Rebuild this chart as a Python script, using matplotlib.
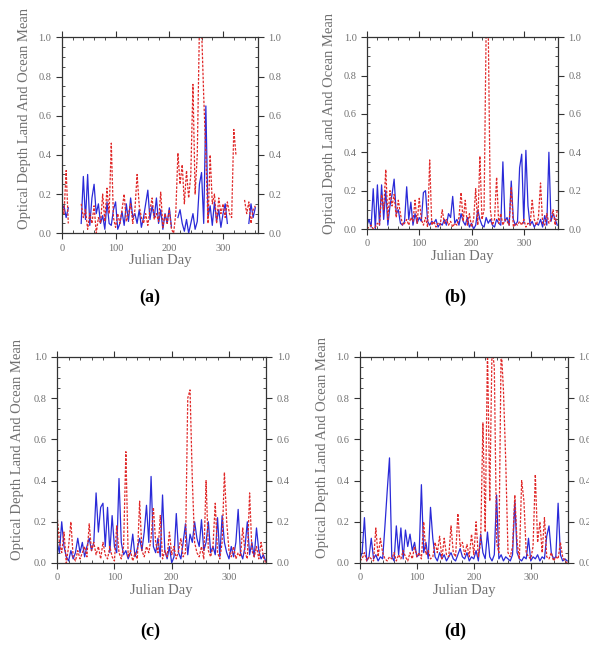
import numpy as np
import matplotlib
matplotlib.use("Agg")
import matplotlib.pyplot as plt
from matplotlib.ticker import MultipleLocator

n = np.nan

# sampled every 4 days, day 0 .. 364
days = np.arange(0, 365, 4)

# (a)
blue_a = [0.12, 0.14, 0.08, 0.13, n, n, n, n, n, 0.05,
          0.29, 0.07, 0.30, 0.04, 0.18, 0.25, 0.10, 0.15, 0.05, 0.09,
          0.02, 0.16, 0.05, 0.04, 0.12, 0.16, 0.02, 0.05, 0.11, 0.04,
          0.15, 0.06, 0.18, 0.08, 0.10, 0.05, 0.12, 0.03, 0.08, 0.15,
          0.22, 0.07, 0.14, 0.08, 0.18, 0.05, 0.12, 0.02, 0.10, 0.05,
          0.13, 0.03, n, n, 0.08, 0.12, 0.05, 0.01, 0.07, 0.00,
          0.05, 0.10, 0.02, 0.06, 0.25, 0.31, 0.05, 0.65, 0.08, 0.14,
          0.04, 0.16, 0.06, 0.12, 0.03, 0.10, 0.15, 0.05, n, n,
          0.07, n, n, n, n, n, n, 0.05, 0.15, 0.08,
          0.13, n]
red_a = [0.15, 0.10, 0.32, 0.05, n, n, n, n, n, 0.15,
         0.08, 0.12, 0.02, 0.10, 0.05, 0.14, 0.00, 0.08, 0.05, 0.20,
         0.06, 0.23, 0.10, 0.46, 0.08, 0.03, 0.10, 0.05, 0.12, 0.20,
         0.06, 0.10, 0.15, 0.05, 0.12, 0.30, 0.14, 0.08, 0.05, 0.10,
         0.04, 0.12, 0.18, 0.07, 0.10, 0.06, 0.21, 0.03, 0.10, 0.05,
         0.12, 0.02, 0.00, 0.10, 0.41, 0.25, 0.35, 0.15, 0.32, 0.18,
         0.30, 0.76, 0.20, 0.40, 1.05, 1.05, 0.70, 0.40, 0.05, 0.40,
         0.15, 0.20, 0.05, 0.18, 0.10, 0.15, 0.08, 0.16, 0.10, 0.08,
         0.53, 0.40, n, n, n, 0.17, 0.10, 0.16, 0.05, 0.12,
         0.14, n]

# (b)
blue_b = [0.02, 0.05, 0.01, 0.21, 0.00, 0.23, 0.02, 0.23, 0.05, 0.20,
          0.02, 0.12, 0.18, 0.26, 0.08, 0.10, 0.03, 0.02, 0.04, 0.22,
          0.05, 0.14, 0.02, 0.08, 0.03, 0.06, 0.04, 0.19, 0.20, 0.04,
          0.02, 0.04, 0.03, 0.05, 0.01, 0.03, 0.02, 0.05, 0.02, 0.08,
          0.06, 0.17, 0.03, 0.05, 0.02, 0.08, 0.04, 0.02, 0.06, 0.01,
          0.03, 0.00, 0.02, 0.10, 0.05, 0.02, 0.01, 0.06, 0.03, 0.05,
          0.02, 0.01, 0.05, 0.03, 0.02, 0.35, 0.04, 0.06, 0.02, 0.25,
          0.05, 0.02, 0.04, 0.32, 0.39, 0.03, 0.41, 0.12, 0.02, 0.04,
          0.01, 0.03, 0.02, 0.05, 0.01, 0.07, 0.02, 0.40, 0.04, 0.08,
          0.05, 0.02]
red_b = [0.00, 0.01, 0.02, 0.00, 0.01, 0.03, 0.02, 0.18, 0.10, 0.31,
         0.05, 0.20, 0.12, 0.18, 0.06, 0.15, 0.08, 0.02, 0.03, 0.05,
         0.02, 0.06, 0.04, 0.15, 0.03, 0.16, 0.05, 0.02, 0.06, 0.01,
         0.36, 0.02, 0.04, 0.01, 0.03, 0.02, 0.10, 0.03, 0.05, 0.02,
         0.04, 0.01, 0.03, 0.02, 0.06, 0.19, 0.04, 0.15, 0.02, 0.08,
         0.01, 0.05, 0.21, 0.02, 0.38, 0.05, 0.10, 1.05, 1.05, 0.10,
         0.02, 0.05, 0.27, 0.03, 0.08, 0.02, 0.05, 0.04, 0.02, 0.22,
         0.01, 0.03, 0.02, 0.04, 0.02, 0.05, 0.01, 0.03, 0.02, 0.15,
         0.05, 0.02, 0.06, 0.24, 0.03, 0.02, 0.08, 0.03, 0.05, 0.10,
         0.02, 0.10]

# (c)
blue_c = [0.10, 0.05, 0.20, 0.08, 0.03, 0.01, 0.06, 0.02, 0.05, 0.12,
          0.05, 0.10, 0.03, 0.08, 0.12, 0.06, 0.10, 0.34, 0.15, 0.27,
          0.29, 0.08, 0.27, 0.05, 0.23, 0.08, 0.05, 0.41, 0.10, 0.04,
          0.06, 0.02, 0.05, 0.14, 0.03, 0.07, 0.12, 0.06, 0.15, 0.28,
          0.10, 0.42, 0.08, 0.05, 0.12, 0.03, 0.33, 0.06, 0.02, 0.08,
          0.00, 0.03, 0.24, 0.05, 0.02, 0.10, 0.19, 0.04, 0.14, 0.10,
          0.20, 0.12, 0.08, 0.21, 0.06, 0.10, 0.20, 0.05, 0.08, 0.04,
          0.22, 0.03, 0.23, 0.10, 0.05, 0.02, 0.08, 0.03, 0.10, 0.26,
          0.05, 0.02, 0.08, 0.20, 0.04, 0.10, 0.03, 0.17, 0.06, 0.02,
          0.04, 0.01]
red_c = [0.23, 0.10, 0.05, 0.15, 0.00, 0.08, 0.20, 0.03, 0.01, 0.06,
         0.02, 0.05, 0.08, 0.03, 0.19, 0.06, 0.10, 0.04, 0.08, 0.02,
         0.10, 0.04, 0.02, 0.08, 0.03, 0.01, 0.18, 0.05, 0.02, 0.08,
         0.54, 0.03, 0.06, 0.01, 0.05, 0.02, 0.30, 0.06, 0.03, 0.08,
         0.05, 0.12, 0.27, 0.10, 0.05, 0.23, 0.02, 0.06, 0.03, 0.15,
         0.04, 0.08, 0.02, 0.06, 0.12, 0.03, 0.05, 0.80, 0.84, 0.40,
         0.10, 0.05, 0.03, 0.08, 0.02, 0.40, 0.06, 0.03, 0.08, 0.29,
         0.05, 0.02, 0.10, 0.44, 0.20, 0.06, 0.03, 0.08, 0.02, 0.05,
         0.03, 0.17, 0.05, 0.02, 0.34, 0.06, 0.03, 0.08, 0.02, 0.10,
         0.03, 0.00]

# (d)
blue_d = [0.02, 0.05, 0.22, 0.01, 0.03, 0.12, 0.02, 0.04, 0.01, 0.03,
          0.02, 0.18, 0.35, 0.51, 0.03, 0.01, 0.18, 0.04, 0.17, 0.02,
          0.16, 0.08, 0.14, 0.06, 0.10, 0.03, 0.04, 0.38, 0.05, 0.10,
          0.02, 0.27, 0.12, 0.03, 0.01, 0.05, 0.02, 0.04, 0.01, 0.03,
          0.05, 0.02, 0.01, 0.04, 0.07, 0.03, 0.02, 0.05, 0.01, 0.03,
          0.02, 0.06, 0.01, 0.14, 0.05, 0.02, 0.15, 0.03, 0.01, 0.04,
          0.33, 0.02, 0.04, 0.01, 0.03, 0.02, 0.01, 0.04, 0.30, 0.05,
          0.02, 0.01, 0.03, 0.02, 0.12, 0.01, 0.03, 0.02, 0.04, 0.01,
          0.03, 0.02, 0.13, 0.18, 0.05, 0.02, 0.03, 0.29, 0.04, 0.01,
          0.02, 0.01]
red_d = [0.01, 0.02, 0.05, 0.01, 0.03, 0.02, 0.01, 0.17, 0.03, 0.12,
         0.05, 0.02, 0.01, 0.03, 0.02, 0.05, 0.01, 0.04, 0.02, 0.06,
         0.03, 0.01, 0.05, 0.02, 0.08, 0.03, 0.05, 0.02, 0.20, 0.04,
         0.06, 0.02, 0.03, 0.10, 0.05, 0.13, 0.02, 0.12, 0.04, 0.03,
         0.18, 0.05, 0.03, 0.24, 0.08, 0.10, 0.04, 0.09, 0.03, 0.14,
         0.04, 0.20, 0.03, 0.10, 0.68, 0.15, 1.05, 0.30, 1.05, 0.95,
         0.10, 0.05, 1.05, 0.84, 0.50, 0.05, 0.03, 0.08, 0.33, 0.10,
         0.02, 0.40, 0.30, 0.05, 0.03, 0.02, 0.08, 0.43, 0.10, 0.20,
         0.05, 0.22, 0.03, 0.02, 0.05, 0.01, 0.03, 0.02, 0.10, 0.03,
         0.01, 0.00]

panels = [
    ("(a)", blue_a, red_a, [0.105, 0.639, 0.333, 0.303], 0.255, -0.155, 0.585),
    ("(b)", blue_b, red_b, [0.623, 0.6455, 0.324, 0.297], 0.773, -0.164, 0.55),
    ("(c)", blue_c, red_c, [0.097, 0.1285, 0.355, 0.319], 0.255, -0.157, 0.55),
    ("(d)", blue_d, red_d, [0.611, 0.1285, 0.353, 0.319], 0.773, -0.147, 0.56),
]

grey = "#707070"
plt.rcParams["font.family"] = ["Liberation Serif", "DejaVu Serif"]

fig = plt.figure(figsize=(5.89, 6.46), dpi=100)

for tag, blue, red, rect, lx, ylx, yly in panels:
    ax = fig.add_axes(rect)
    ax.plot(days, blue, color="#2a2ad8", lw=0.9)
    ax.plot(days, red, color="#e02828", lw=0.9, ls=(0, (2, 1.2)))
    ax.set_xlim(0, 365)
    ax.set_ylim(0, 1.0)
    ax.xaxis.set_major_locator(MultipleLocator(100))
    ax.xaxis.set_minor_locator(MultipleLocator(20))
    ax.yaxis.set_major_locator(MultipleLocator(0.2))
    ax.yaxis.set_minor_locator(MultipleLocator(0.05))
    ax.yaxis.set_major_formatter(plt.FuncFormatter(lambda v, p: f"{v:.1f}"))
    ax.tick_params(which="both", top=True, right=True, labelright=True,
                   labelsize=7.5, labelcolor=grey, color="#333333")
    ax.tick_params(which="major", direction="out", length=4, width=0.8)
    ax.tick_params(which="minor", direction="in", length=2.5, width=0.6)
    for s in ax.spines.values():
        s.set_linewidth(0.9)
        s.set_color("#333333")
    ax.set_xlabel("Julian Day", fontsize=10.5, color=grey, labelpad=1)
    ax.set_ylabel("Optical Depth Land And Ocean Mean", fontsize=10.5,
                  color=grey)
    ax.yaxis.set_label_coords(ylx, yly)
    ly = 0.539 if tag in ("(a)", "(b)") else 0.022
    fig.text(lx, ly, tag, fontsize=13, fontweight="bold", ha="center",
             va="center")

fig.savefig("out.png", dpi=100)
